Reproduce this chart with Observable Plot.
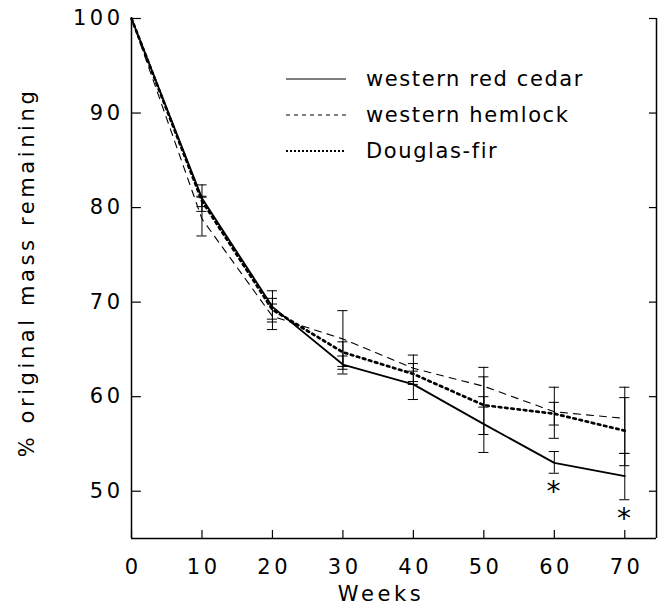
<!DOCTYPE html>
<html>
<head>
<meta charset="utf-8">
<script src="https://cdn.jsdelivr.net/npm/d3@7"></script>
<script src="https://cdn.jsdelivr.net/npm/@observablehq/plot@0.6"></script>
<style>
  html, body { margin: 0; padding: 0; background: #fff; }
  #wrap { position: relative; width: 663px; height: 612px; font-family: "DejaVu Sans", sans-serif; }
  #legend { position: absolute; left: 286px; top: 61px; }
  .row { display: flex; align-items: center; height: 36px; font-size: 21px; letter-spacing: 1.6px; color: #000; }
  .row svg { margin-right: 20px; }
</style>
</head>
<body>
<div id="wrap"></div>
<script>
const weeks = [0, 10, 20, 30, 40, 50, 60, 70];
const seriesNames = ["western red cedar", "western hemlock", "Douglas-fir"];
const cedar   = [100, 81.0, 69.5, 63.4, 61.3, 57.1, 53.0, 51.6];
const hemlock = [100, 78.8, 68.5, 66.1, 63.0, 61.1, 58.4, 57.7];
const fir     = [100, 80.7, 69.2, 64.7, 62.4, 59.1, 58.2, 56.4];
const cedarLo   = [null, 79.6, 68.2, 62.4, 59.7, 54.1, 51.9, 49.1];
const cedarHi   = [null, 82.4, 70.4, 64.3, 62.7, 60.0, 54.2, 54.0];
const hemlockLo = [null, 77.0, 67.1, 62.9, 61.6, 58.9, 55.6, 54.0];
const hemlockHi = [null, 81.1, 71.2, 69.1, 64.4, 63.1, 61.0, 61.0];
const firLo     = [null, 80.1, 67.9, 63.2, 61.3, 56.0, 57.0, 52.7];
const firHi     = [null, 81.2, 69.8, 65.8, 63.5, 62.1, 59.4, 59.9];
const starWeeks = [60, 70];
const yTicks = [50, 60, 70, 80, 90, 100];
const xTicks = [0, 10, 20, 30, 40, 50, 60, 70];

const styles = [
  {stroke: "#000", strokeWidth: 1.8, dash: null},
  {stroke: "#000", strokeWidth: 1.1, dash: "7,6"},
  {stroke: "#000", strokeWidth: 2.7, dash: "2.5,3.8"}
];
const vals = [cedar, hemlock, fir];
const los = [cedarLo, hemlockLo, firLo];
const his = [cedarHi, hemlockHi, firHi];

const pts = [];
const errs = [];
vals.forEach((arr, s) => {
  weeks.forEach((w, i) => {
    pts.push({series: seriesNames[s], week: w, value: arr[i]});
    if (los[s][i] != null) errs.push({series: seriesNames[s], week: w, lo: los[s][i], hi: his[s][i]});
  });
});
const caps = errs.flatMap(d => [{week: d.week, v: d.lo}, {week: d.week, v: d.hi}]);
const stars = starWeeks.map(w => ({week: w, v: cedarLo[weeks.indexOf(w)]}));

const xMax = 74.5, yMin = 45, yMax = 100;
const capHalf = 0.72;
const font = "DejaVu Sans, sans-serif";

const marks = [
  // frame
  Plot.ruleX([0, xMax], {y1: yMin, y2: yMax, stroke: "#000", strokeWidth: 1.5}),
  Plot.ruleY([yMin], {x1: 0, x2: xMax, stroke: "#000", strokeWidth: 1.5}),
  // inward ticks
  Plot.ruleY(yTicks, {x1: 0, x2: 1.4, stroke: "#000", strokeWidth: 1.2}),
  Plot.ruleY(yTicks, {x1: xMax - 1.0, x2: xMax, stroke: "#000", strokeWidth: 1.2}),
  Plot.ruleX(xTicks, {y1: yMin, y2: yMin + 0.85, stroke: "#000", strokeWidth: 1.2}),
  // axes labels (no ticks)
  Plot.axisY(yTicks, {tickSize: 0, tickPadding: 8, fontSize: 21, label: null, fontFamily: font, className: "tk"}),
  Plot.axisX(xTicks, {tickSize: 0, tickPadding: 21, dx: 1.75, fontSize: 21, label: null, fontFamily: font, className: "tk"}),
  // error bars
  Plot.ruleX(errs, {x: "week", y1: "lo", y2: "hi", stroke: "#000", strokeWidth: 1}),
  Plot.ruleY(caps, {y: "v", x1: d => d.week - capHalf, x2: d => d.week + capHalf, stroke: "#000", strokeWidth: 1}),
  // lines
  ...seriesNames.map((name, s) => Plot.line(pts.filter(d => d.series === name), {
    x: "week", y: "value", stroke: styles[s].stroke, strokeWidth: styles[s].strokeWidth,
    strokeDasharray: styles[s].dash, strokeLinejoin: "round"
  })),
  // asterisks
  Plot.text(stars, {x: "week", y: "v", text: () => "*", dy: 19, fontSize: 28, fontFamily: font, fill: "#000"}),
  // axis titles
  Plot.text(["% original mass remaining"], {frameAnchor: "left", textAnchor: "middle", dx: -104, dy: -6, rotate: -90, fontSize: 21, fontFamily: font, fill: "#000", className: "ttl"}),
  Plot.text(["Weeks"], {frameAnchor: "bottom", textAnchor: "middle", dx: -13, dy: 62, fontSize: 21, fontFamily: font, fill: "#000", className: "ttl"})
];

const chart = Plot.plot({
  width: 663,
  height: 612,
  marginLeft: 131,
  marginRight: 7,
  marginTop: 18,
  marginBottom: 74,
  x: {domain: [0, xMax]},
  y: {domain: [yMin, yMax]},
  style: {fontFamily: font, color: "#000", background: "#fff", overflow: "visible"},
  marks
});
chart.querySelectorAll("text").forEach(t => t.setAttribute("letter-spacing", "1.6"));
chart.querySelectorAll(".tk text").forEach(t => t.setAttribute("letter-spacing", "3.5"));
chart.querySelectorAll(".ttl text").forEach(t => t.setAttribute("letter-spacing", "3.6"));

const wrap = document.getElementById("wrap");
wrap.appendChild(chart);

// legend overlay
const legend = document.createElement("div");
legend.id = "legend";
seriesNames.forEach((name, s) => {
  const row = document.createElement("div");
  row.className = "row";
  const st = styles[s];
  row.innerHTML = `<svg width="60" height="6"><line x1="0" x2="60" y1="3" y2="3" stroke="${st.stroke}" stroke-width="${s === 2 ? 2 : 1}" ${st.dash ? `stroke-dasharray="${s === 1 ? '4,4' : '2,2'}"` : ""}/></svg><span>${name}</span>`;
  legend.appendChild(row);
});
wrap.appendChild(legend);
</script>
</body>
</html>
